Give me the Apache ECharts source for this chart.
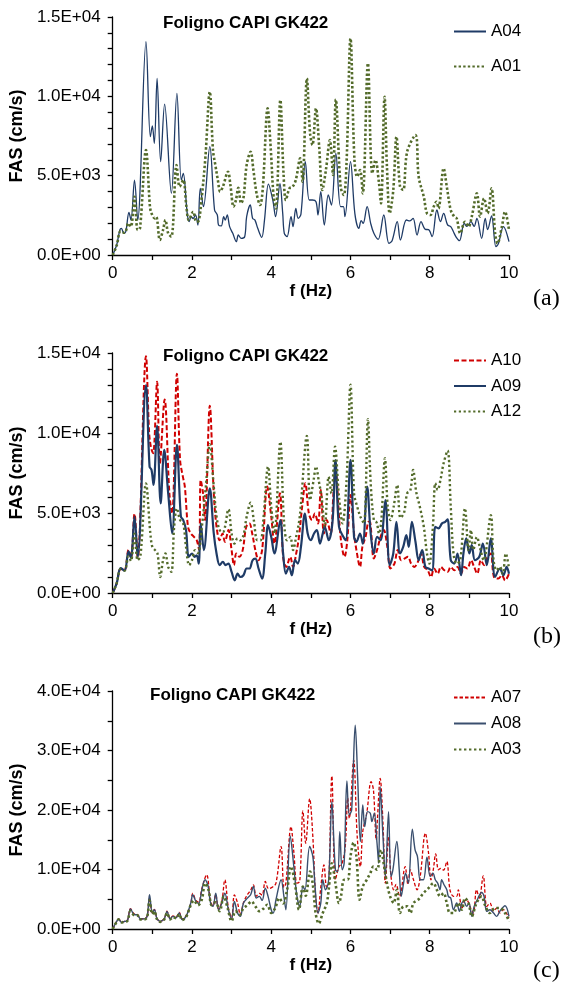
<!DOCTYPE html>
<html>
<head>
<meta charset="utf-8">
<script src="https://cdn.jsdelivr.net/npm/echarts@6/dist/echarts.min.js"></script>
<style>
  html, body { margin: 0; padding: 0; background: #fff; }
  #chart { width: 564px; height: 983px; }
</style>
</head>
<body>
<div id="chart"></div>
<script>
// ---- data: f (Hz) and FAS (cm/s) ----
var xTicks = [0, 2, 4, 6, 8, 10];

// panel (a)
var fA04 = [0,0.1,0.18,0.22,0.28,0.33,0.41,0.46,0.55,0.63,0.84,0.95,1.0,1.05,1.12,1.21,1.31,1.48,1.62,1.73,1.78,1.88,1.93,1.98,2.03,2.09,2.15,2.21,2.29,2.45,2.57,2.64,2.67,2.74,2.8,2.84,2.89,2.95,3.03,3.12,3.17,3.24,3.33,3.38,3.47,3.53,3.59,3.66,3.76,3.83,3.93,4.04,4.11,4.22,4.29,4.33,4.4,4.5,4.55,4.62,4.68,4.75,4.86,4.96,5.04,5.13,5.18,5.25,5.34,5.44,5.52,5.63,5.75,5.82,5.86,6.0,6.11,6.21,6.27,6.32,6.42,6.51,6.59,6.7,6.84,6.97,7.05,7.18,7.26,7.41,7.5,7.58,7.68,7.78,7.89,7.97,8.06,8.18,8.27,8.35,8.45,8.53,8.6,8.67,8.75,8.87,8.94,9.04,9.12,9.19,9.31,9.4,9.46,9.56,9.67,9.73,9.86,10];
var vA04 = [0,630,1575,1680,1365,1470,2690,2200,4725,2200,13440,7455,8130,7035,11130,5880,9510,3885,10185,4725,5145,2625,2100,2415,2300,2520,1890,4200,3045,6825,2835,2520,1890,1830,2415,2200,2520,1785,1365,840,1260,1050,1150,2415,3150,2310,2200,1680,1110,2200,4470,3465,2415,4490,2625,1365,1155,2415,1785,2940,2310,2580,5880,3465,3465,3360,2520,3990,1890,3780,3150,6400,3045,3045,2415,5880,2625,1680,2163,1995,3045,1995,1365,990,2520,735,900,2100,945,2205,2150,2310,1260,2100,1617,1600,1155,2835,2100,2625,1900,1785,1450,1113,903,1995,1800,2100,1800,2310,1050,2310,1600,2457,525,700,1785,840];
var fA01 = [0,0.1,0.2,0.3,0.4,0.46,0.55,0.63,0.69,0.84,0.94,0.98,1.06,1.1,1.19,1.27,1.33,1.4,1.48,1.61,1.69,1.78,1.86,1.92,2.03,2.11,2.17,2.24,2.34,2.45,2.53,2.59,2.66,2.71,2.78,2.91,2.97,3.05,3.11,3.17,3.24,3.3,3.38,3.48,3.55,3.63,3.72,3.79,3.91,3.99,4.06,4.12,4.23,4.31,4.37,4.46,4.54,4.62,4.73,4.79,4.9,4.98,5.04,5.13,5.21,5.29,5.38,5.48,5.56,5.63,5.75,5.83,5.9,6.0,6.1,6.17,6.24,6.31,6.44,6.55,6.63,6.72,6.77,6.86,6.92,6.99,7.08,7.16,7.25,7.33,7.43,7.64,7.72,7.85,7.93,8.02,8.1,8.17,8.22,8.35,8.43,8.53,8.62,8.68,8.77,8.89,8.98,9.06,9.19,9.27,9.37,9.46,9.56,9.65,9.71,9.82,9.9,10];
var vA01 = [0,600,1500,1400,2000,1785,3675,1575,1700,6615,3045,2625,2310,2400,945,1575,2205,1365,1155,5670,4305,4725,3045,2205,2730,2100,2150,3465,6195,10290,6615,5670,4620,3990,4305,5250,4410,3045,3465,4242,3255,3600,5670,6510,5355,3885,3150,4305,9240,6615,3675,2940,9765,5145,3465,4200,4305,4725,6090,4620,11130,7665,6930,9240,6825,4095,5355,7245,5040,9800,4305,3780,5775,13650,5985,4935,5355,3885,12075,5145,5985,4515,3255,9975,5565,2625,4095,7455,4305,4095,6510,7560,4935,3675,2625,2520,3045,3360,2940,5460,4305,2835,2415,2310,1365,2100,1785,2415,3885,2415,3570,2625,4200,1365,735,1785,2730,1575];

// panel (b)
var fA10 = [0,0.1,0.2,0.3,0.4,0.46,0.55,0.63,0.84,0.92,0.97,1.02,1.12,1.19,1.31,1.43,1.5,1.62,1.7,1.77,1.82,1.9,1.97,2.05,2.12,2.18,2.22,2.28,2.33,2.45,2.55,2.62,2.7,2.77,2.83,2.92,3.0,3.06,3.12,3.2,3.28,3.37,3.45,3.52,3.6,3.68,3.77,3.9,4.0,4.08,4.22,4.3,4.38,4.48,4.55,4.63,4.7,4.78,4.86,4.95,5.03,5.1,5.18,5.25,5.33,5.4,5.5,5.57,5.62,5.75,5.85,5.92,6.0,6.09,6.15,6.24,6.3,6.38,6.46,6.5,6.59,6.67,6.76,6.84,6.93,7.01,7.11,7.19,7.28,7.36,7.45,7.53,7.61,7.7,7.78,7.86,7.95,8.03,8.11,8.2,8.28,8.37,8.45,8.53,8.62,8.7,8.79,8.87,8.95,9.04,9.12,9.2,9.29,9.37,9.46,9.54,9.62,9.73,9.82,9.9,10];
var vA10 = [0,600,1500,1450,2700,2200,4950,2200,14800,9990,9050,8740,13200,8110,12100,6230,4970,13700,8320,7270,6650,4140,3720,3510,3300,2680,7060,6230,4560,11700,6230,4140,3300,3720,3200,3930,2680,1740,2470,2260,2680,4140,4350,3720,2680,2050,2680,6650,4770,3090,6230,2260,1630,2260,1630,2470,3510,5390,6860,4970,4560,4970,4350,6440,3720,4560,3720,6230,7600,3510,2260,3300,6120,3720,2680,1630,2880,3510,4450,4400,2150,2680,3510,3930,2880,1530,1840,2680,2050,2150,2260,1840,1630,1940,2470,1630,1420,1000,1530,1210,1630,1420,1320,1630,1420,1630,1210,1630,1530,2050,1630,1210,2050,1740,2260,2470,1000,900,1110,790,1210];
var fA09 = [0,0.1,0.2,0.3,0.4,0.46,0.55,0.63,0.84,0.93,0.98,1.03,1.12,1.21,1.3,1.4,1.5,1.62,1.72,1.78,1.85,1.92,2.0,2.07,2.12,2.17,2.22,2.3,2.45,2.55,2.62,2.7,2.78,2.85,2.92,3.0,3.08,3.15,3.22,3.3,3.38,3.45,3.53,3.6,3.68,3.77,3.85,3.92,4.0,4.08,4.23,4.3,4.37,4.45,4.52,4.6,4.67,4.75,4.85,4.92,5.0,5.08,5.15,5.23,5.3,5.35,5.45,5.55,5.62,5.71,5.82,5.88,6.0,6.09,6.15,6.24,6.31,6.42,6.51,6.59,6.67,6.76,6.88,6.99,7.08,7.16,7.25,7.33,7.41,7.47,7.55,7.64,7.72,7.81,7.89,7.97,8.06,8.14,8.22,8.31,8.39,8.45,8.53,8.62,8.7,8.79,8.85,8.92,9.0,9.06,9.14,9.25,9.34,9.44,9.54,9.65,9.77,9.86,9.94,10];
var vA09 = [0,600,1550,1400,2600,2200,4770,2260,13000,7900,7690,6750,10450,5600,8950,6230,3720,9260,4770,4560,3930,2260,2470,2260,2360,1840,4350,2680,6540,3720,2470,1740,1940,1740,1840,1320,790,1210,1000,1110,1530,1530,2050,2150,1530,900,2470,4240,3510,2470,4560,2470,1210,1630,1110,2050,1840,2880,4970,3720,3300,3720,3930,3090,3720,4140,3300,4560,8300,4140,3510,3300,8320,3510,3200,3720,3090,6650,3720,2470,3510,3300,5810,1740,2470,4450,2470,2880,3620,2880,4450,3200,2050,2680,1630,1530,1420,4140,4040,4350,4450,4600,2050,1840,2470,1110,2470,3410,2470,2990,2050,2260,3090,1740,3410,1000,1530,1110,1630,1210];
var fA12 = [0,0.1,0.2,0.3,0.4,0.46,0.55,0.63,0.7,0.84,0.95,1.0,1.07,1.13,1.2,1.27,1.33,1.4,1.48,1.55,1.62,1.7,1.78,1.85,1.93,2.0,2.08,2.15,2.25,2.35,2.45,2.55,2.62,2.7,2.78,2.92,3.0,3.07,3.15,3.22,3.3,3.38,3.48,3.56,3.65,3.73,3.8,3.92,4.0,4.08,4.23,4.32,4.4,4.48,4.55,4.62,4.72,4.9,4.98,5.07,5.13,5.2,5.27,5.35,5.45,5.52,5.61,5.71,5.8,5.9,6.0,6.09,6.17,6.25,6.34,6.44,6.51,6.59,6.66,6.72,6.78,6.87,6.94,7.01,7.09,7.18,7.26,7.35,7.43,7.51,7.58,7.66,7.75,7.85,7.93,7.99,8.08,8.14,8.2,8.27,8.35,8.45,8.53,8.6,8.68,8.77,8.89,8.98,9.04,9.1,9.19,9.27,9.36,9.54,9.61,9.69,9.77,9.84,9.92,10];
var vA12 = [0,600,1500,1400,2300,2000,3700,2050,2300,6850,3720,2880,2680,2470,1000,2050,2470,1630,1320,4140,5290,4560,4350,2880,1740,2050,2680,2500,4140,6650,9300,6650,4770,3930,3800,5230,3720,3090,3410,3300,3600,4770,5640,4560,3300,3300,4560,7900,5390,3720,9450,4560,3300,3510,2680,3400,4770,9820,5810,7060,7900,7000,6020,4140,7270,6230,9150,6020,4350,7000,13020,6230,5390,4770,4350,10870,6860,4560,4400,3720,4600,8420,5390,4560,5400,6750,4700,5000,6230,6400,7690,6300,5390,4140,2470,1840,4140,6860,6440,7060,8110,8900,5390,2470,1840,2050,5290,2680,3930,2700,3500,2800,2050,4870,2050,1420,1630,1200,2470,1530];

// panel (c)
var fA07 = [0,0.1,0.15,0.22,0.3,0.37,0.45,0.55,0.62,0.7,0.8,0.87,0.93,1.0,1.05,1.12,1.2,1.3,1.37,1.45,1.52,1.6,1.68,1.75,1.85,1.97,2.02,2.1,2.17,2.25,2.37,2.47,2.53,2.6,2.67,2.75,2.83,2.92,3.0,3.07,3.15,3.22,3.3,3.4,3.48,3.55,3.62,3.7,3.77,3.85,3.93,4.02,4.12,4.25,4.32,4.37,4.5,4.57,4.65,4.72,4.8,4.87,4.97,5.05,5.12,5.18,5.25,5.33,5.4,5.45,5.53,5.62,5.71,5.79,5.87,5.93,5.97,6.08,6.17,6.25,6.31,6.41,6.52,6.58,6.65,6.68,6.75,6.82,6.88,6.96,7.02,7.09,7.15,7.24,7.38,7.45,7.51,7.59,7.68,7.76,7.89,7.97,8.03,8.09,8.15,8.22,8.28,8.35,8.43,8.51,8.6,8.68,8.72,8.81,8.86,8.93,9.02,9.1,9.18,9.25,9.35,9.44,9.52,9.61,9.69,9.77,9.86,9.93,10];
var vA07 = [0,1300,1700,1150,1300,1450,3400,2500,2450,1700,1750,2200,5200,2700,3300,1750,1300,1750,3000,1750,2200,2000,2800,1700,2200,4300,6000,4800,4500,6800,9100,4600,3900,5800,3400,4500,8270,3500,1900,5750,4400,2400,4400,5800,6500,7430,5500,6000,5700,7990,6800,7000,7710,13860,7000,7710,17200,13000,7710,8000,19830,14410,21900,15530,5475,2700,7000,10780,7000,7500,25700,8270,10500,11060,14000,22000,18600,28380,15530,10500,16370,19440,24750,23350,14970,18500,25300,17770,7710,15530,9000,6590,7500,5475,10500,7500,9950,8270,6590,8830,16090,12740,8270,10000,12630,9950,10200,9900,11340,6590,5500,5500,6590,3400,4500,4900,3700,2680,6590,5200,8940,3800,4360,3000,3520,2700,3240,2700,1840];
var fA08 = [0,0.1,0.15,0.22,0.3,0.37,0.45,0.55,0.62,0.7,0.8,0.87,0.93,1.0,1.05,1.12,1.2,1.3,1.37,1.45,1.52,1.6,1.68,1.75,1.85,1.97,2.02,2.1,2.17,2.25,2.33,2.4,2.47,2.53,2.6,2.67,2.75,2.83,2.92,3.0,3.07,3.15,3.22,3.3,3.4,3.48,3.55,3.62,3.7,3.77,3.85,3.92,4.0,4.05,4.12,4.25,4.32,4.37,4.48,4.57,4.65,4.72,4.8,4.85,4.97,5.05,5.1,5.18,5.25,5.3,5.37,5.45,5.53,5.62,5.68,5.73,5.79,5.84,5.91,5.97,6.03,6.12,6.18,6.25,6.31,6.36,6.43,6.5,6.54,6.6,6.67,6.71,6.75,6.82,6.88,6.96,7.02,7.07,7.17,7.23,7.28,7.34,7.39,7.46,7.56,7.63,7.69,7.76,7.84,7.93,8.01,8.08,8.14,8.2,8.26,8.3,8.36,8.43,8.47,8.53,8.6,8.68,8.75,8.81,8.86,8.93,8.99,9.06,9.12,9.18,9.31,9.37,9.44,9.52,9.61,9.69,9.77,9.9,10];
var vA08 = [0,1285,1676,1117,1285,1400,3352,2402,2400,1676,1700,2123,5755,2682,3240,1700,1285,1700,2961,1700,2123,1900,2682,1600,2123,4358,5755,4637,4300,6593,8269,7431,4358,3799,6034,3240,4300,6034,3240,1676,4637,2682,2123,4358,5196,5755,7151,5196,5475,4805,6872,5475,3240,2682,4917,8269,5475,3240,15644,10504,5475,3799,7151,6593,13856,12180,7710,2682,4358,8269,6593,8269,21398,9945,9666,16370,9945,11062,24862,19163,20001,34248,25588,14694,20839,17208,19722,19443,18046,19443,14414,11062,23912,15532,8827,19722,8827,9945,14694,9945,5475,7710,9386,7710,16761,13297,12180,8269,8269,12068,8827,9386,8269,7710,6593,8269,7431,6593,5475,5196,3240,4358,2961,4358,4637,3799,4358,2123,3799,4637,6146,5475,2961,3240,2682,2123,3000,3911,2123];
var fA03 = [0,0.1,0.15,0.22,0.3,0.37,0.45,0.55,0.62,0.7,0.8,0.87,0.93,1.0,1.05,1.12,1.2,1.3,1.37,1.45,1.52,1.6,1.68,1.75,1.85,1.97,2.05,2.15,2.25,2.33,2.42,2.5,2.6,2.7,2.8,2.9,3.0,3.1,3.2,3.3,3.4,3.5,3.6,3.7,3.8,3.9,4.0,4.1,4.2,4.3,4.4,4.5,4.6,4.7,4.8,4.87,4.98,5.05,5.12,5.2,5.3,5.4,5.45,5.53,5.62,5.71,5.76,5.84,5.93,6.0,6.08,6.15,6.23,6.31,6.41,6.5,6.58,6.67,6.77,6.85,6.92,7.0,7.09,7.17,7.25,7.34,7.43,7.51,7.59,7.72,7.84,7.97,8.09,8.18,8.26,8.35,8.43,8.51,8.6,8.72,8.81,8.89,8.98,9.06,9.18,9.31,9.39,9.52,9.65,9.77,9.9,10];
var vA03 = [0,1200,1600,1100,1250,1350,3000,2300,2300,1600,1600,2000,4800,2500,3000,1600,1200,1600,2700,1600,2000,1800,2500,1500,2000,4000,4800,4000,5000,7700,6500,4000,4500,3000,5500,3500,1300,3000,2400,3500,4000,4640,3800,3000,3400,4080,2700,3500,5200,4300,6590,10500,7500,3240,7150,5600,9670,7500,2700,900,2680,4300,6590,11060,7710,4360,5500,8270,8270,12180,14530,12180,4920,7150,8270,9390,10500,9950,13300,10500,7710,5480,4360,6590,2680,3800,3800,2680,4360,5000,6030,6870,7710,6590,5500,6030,4360,2680,2680,4360,3240,5200,4360,2100,4360,5480,4080,2680,3520,3520,2680,1290];

var chartTitle = 'Foligno CAPI GK422';
var panelTags = ['(a)', '(b)', '(c)'];

// 基于准备好的dom，初始化echarts实例
var myChart = echarts.init(document.getElementById('chart'));

var SANS = '"Liberation Sans", Arial, sans-serif';
var SERIF = '"Liberation Serif", "Times New Roman", serif';

function pairs(f, v) {
    var out = [];
    for (var i = 0; i < f.length; i++) {
        out.push([f[i], v[i]]);
    }
    return out;
}

function sciLabel(step) {
    return function (v) {
        if (Math.round(v) % step !== 0) return '';
        return v.toExponential(1).replace(/e\+(\d)$/, 'E+0$1').replace('e+', 'E+');
    };
}

var grids = [
    {left: 110, top: 17, width: 399, height: 238},
    {left: 110, top: 353, width: 399, height: 240},
    {left: 111, top: 691, width: 398, height: 238}
];

var xAxes = [];
var yAxes = [];
var yMax = [15000, 15000, 40000];
var yStep = [1000, 1000, 5000];
var yLabelStep = [5000, 5000, 10000];
for (var g = 0; g < 3; g++) {
    xAxes.push({
        type: 'value', gridIndex: g, min: 0, max: 10, interval: 1,
        name: 'f (Hz)', nameLocation: 'middle', nameGap: 27,
        nameTextStyle: {fontFamily: SANS, fontWeight: 'bold', fontSize: 17, color: '#000'},
        axisLine: {lineStyle: {color: '#000', width: 1.3}},
        axisTick: {length: 5, lineStyle: {color: '#000', width: 1.3}},
        axisLabel: {
            fontFamily: SANS, fontSize: 17, color: '#000', margin: 10,
            formatter: function (v) { return xTicks.indexOf(v) >= 0 ? String(v) : ''; }
        },
        splitLine: {show: false}
    });
    yAxes.push({
        type: 'value', gridIndex: g, min: 0, max: yMax[g], interval: yStep[g],
        name: 'FAS (cm/s)', nameLocation: 'middle', nameGap: 82,
        nameTextStyle: {fontFamily: SANS, fontWeight: 'bold', fontSize: 18, color: '#000'},
        axisLine: {show: true, lineStyle: {color: '#000', width: 1.3}},
        axisTick: {show: true, length: 5, lineStyle: {color: '#000', width: 1.3}},
        axisLabel: {fontFamily: SANS, fontSize: 17, color: '#000', margin: 12, formatter: sciLabel(yLabelStep[g])},
        splitLine: {show: false}
    });
}

function lineSeries(name, g, f, v, color, width, dash) {
    return {
        name: name, type: 'line', xAxisIndex: g, yAxisIndex: g,
        data: pairs(f, v), showSymbol: false, symbol: 'none', smooth: 0.35,
        lineStyle: {color: color, width: width, type: dash || 'solid'},
        itemStyle: {color: color},
        animation: false
    };
}

var NAVY = '#1f3b66';
var GREEN = '#536b2a';
var RED = '#d00000';
var SLATE = '#3a4f6e';

var legendText = {fontFamily: SANS, fontSize: 17, color: '#000', lineHeight: 17};
// 图例只画线段，不画圆点
var legendBase = {orient: 'vertical', left: 448, itemWidth: 32, itemHeight: 10,
                  itemStyle: {opacity: 0}, textStyle: legendText};

var titleTexts = [];
var tags = [];
var titlePos = [[163, 23], [163, 356], [150, 695]];
var tagPos = [[533, 299], [533, 637], [533, 971]];
for (var k = 0; k < 3; k++) {
    titleTexts.push({
        type: 'text', x: titlePos[k][0], y: titlePos[k][1],
        style: {text: chartTitle, font: 'bold 17px ' + SANS, fill: '#000', verticalAlign: 'middle'}
    });
    tags.push({
        type: 'text', x: tagPos[k][0], y: tagPos[k][1],
        style: {text: panelTags[k], font: '24px ' + SERIF, fill: '#000', verticalAlign: 'middle'}
    });
}

// 指定图表的配置项和数据
var option = {
    backgroundColor: '#fff',
    animation: false,
    grid: grids,
    xAxis: xAxes,
    yAxis: yAxes,
    legend: [
        echarts.util.merge({data: ['A04', 'A01'], top: 18, itemGap: 18}, legendBase),
        echarts.util.merge({data: ['A10', 'A09', 'A12'], top: 347, itemGap: 8.5}, legendBase),
        echarts.util.merge({data: ['A07', 'A08', 'A03'], top: 684, itemGap: 9}, legendBase)
    ],
    graphic: titleTexts.concat(tags),
    series: [
        lineSeries('A04', 0, fA04, vA04, NAVY, 1.3),
        lineSeries('A01', 0, fA01, vA01, GREEN, 2.6, [2.4, 2.2]),
        lineSeries('A10', 1, fA10, vA10, RED, 2, [5, 2.5]),
        lineSeries('A09', 1, fA09, vA09, NAVY, 2.2),
        lineSeries('A12', 1, fA12, vA12, GREEN, 2.4, [2.2, 2.6]),
        lineSeries('A07', 2, fA07, vA07, RED, 1.3, [3.5, 2]),
        lineSeries('A08', 2, fA08, vA08, SLATE, 1.4),
        lineSeries('A03', 2, fA03, vA03, GREEN, 2.6, [2.4, 2.6])
    ]
};

// 使用刚指定的配置项和数据显示图表。
myChart.setOption(option);
</script>
</body>
</html>
